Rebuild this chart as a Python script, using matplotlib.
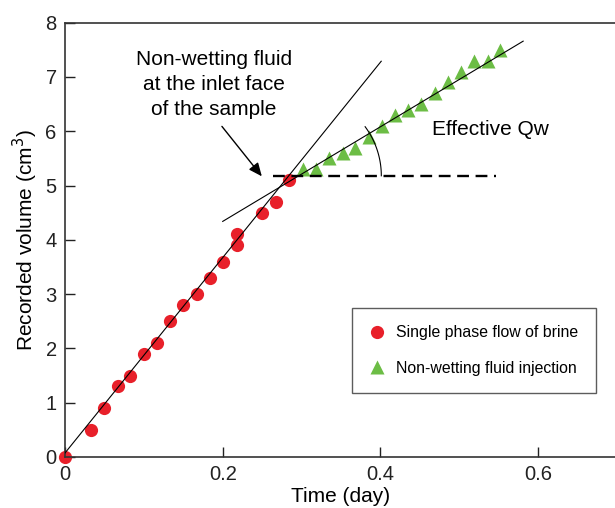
import numpy as np
import matplotlib
matplotlib.use("Agg")
import matplotlib.pyplot as plt

plt.rcParams["font.family"] = ["Liberation Sans", "DejaVu Sans"]

# single phase flow of brine
brine_t = [0.0, 0.033, 0.05, 0.067, 0.083, 0.1, 0.117, 0.133, 0.15, 0.167,
           0.184, 0.2, 0.218, 0.218, 0.25, 0.267, 0.284]
brine_v = [0.0, 0.5, 0.9, 1.3, 1.5, 1.9, 2.1, 2.5, 2.8, 3.0,
           3.3, 3.6, 4.1, 3.9, 4.5, 4.7, 5.1]

# non-wetting fluid injection
nw_t = [0.302, 0.318, 0.335, 0.352, 0.368, 0.385, 0.402, 0.419, 0.435, 0.452,
        0.469, 0.486, 0.502, 0.519, 0.536, 0.552]
nw_v = [5.3, 5.3, 5.5, 5.6, 5.7, 5.9, 6.1, 6.3, 6.4, 6.5,
        6.7, 6.9, 7.1, 7.3, 7.3, 7.5]

# trend lines (endpoints)
fit1_t = [-0.008, 0.401]
fit1_v = [-0.07, 7.29]
fit2_t = [0.2, 0.581]
fit2_v = [4.34, 7.66]
base_t = [0.264, 0.546]
base_v = [5.18, 5.18]

xticks = [0, 0.2, 0.4, 0.6]
xticklabels = ["0", "0.2", "0.4", "0.6"]
yticks = list(range(9))

fig = plt.figure(figsize=(6.15, 5.08), dpi=100)
ax = fig.add_axes([65 / 615, 51 / 508, 552 / 615, 434.3 / 508])

ax.plot(fit1_t, fit1_v, color="black", lw=0.8, zorder=3)
ax.plot(fit2_t, fit2_v, color="black", lw=0.8, zorder=3)
ax.plot(base_t, base_v, color="black", lw=1.7, ls=(0, (5, 2.8)), zorder=3)

ax.plot(brine_t, brine_v, "o", color="#e8202a", ms=9.5, mec="none",
        label="Single phase flow of brine", zorder=2, clip_on=False)
ax.plot(nw_t, nw_v, "^", color="#6cbd45", ms=10, mec="none",
        label="Non-wetting fluid injection", zorder=2)

# angle arc between dashed base and the second trend
ax_w = 552 / 0.7
ax_h = 434.3 / 8
cx, cy, r = 0.2965, 5.18, 82.5
th = np.radians(np.linspace(0, 36.5, 40))
ax.plot(cx + r * np.cos(th) / ax_w, cy + r * np.sin(th) / ax_h,
        color="black", lw=0.8)

ax.text(0.189, 6.86, "Non-wetting fluid\nat the inlet face\nof the sample",
        ha="center", va="center", fontsize=15, linespacing=1.38)
ax.annotate("", xy=(0.2496, 5.17), xytext=(0.199, 6.09),
            arrowprops=dict(arrowstyle="-|>,head_length=0.8,head_width=0.35",
                            color="black", lw=1.0, shrinkA=0, shrinkB=0))
ax.text(0.466, 6.03, "Effective Qw", ha="left", va="center", fontsize=15)

ax.set_xlim(0, 0.7)
ax.set_ylim(0, 8)
ax.set_xticks(xticks)
ax.set_xticklabels(xticklabels)
ax.set_yticks(yticks)
ax.tick_params(direction="in", length=7, width=1, labelsize=14.5,
               colors="#222222", pad=6)
for s in ax.spines.values():
    s.set_color("#333333")
    s.set_linewidth(1.2)

ax.set_xlabel("Time (day)", fontsize=15, labelpad=2)
ax.set_ylabel("Recorded volume (cm$^3$)", fontsize=15, labelpad=4)

leg = ax.legend(loc="upper left", bbox_to_anchor=(0.52, 0.343), fontsize=11.4,
                frameon=True, fancybox=False, handletextpad=0.7,
                borderpad=1.1, labelspacing=1.3, handlelength=1.0,
                borderaxespad=0)
leg.get_frame().set_edgecolor("#333333")
leg.get_frame().set_linewidth(1.0)

fig.savefig("out.png", dpi=100)
